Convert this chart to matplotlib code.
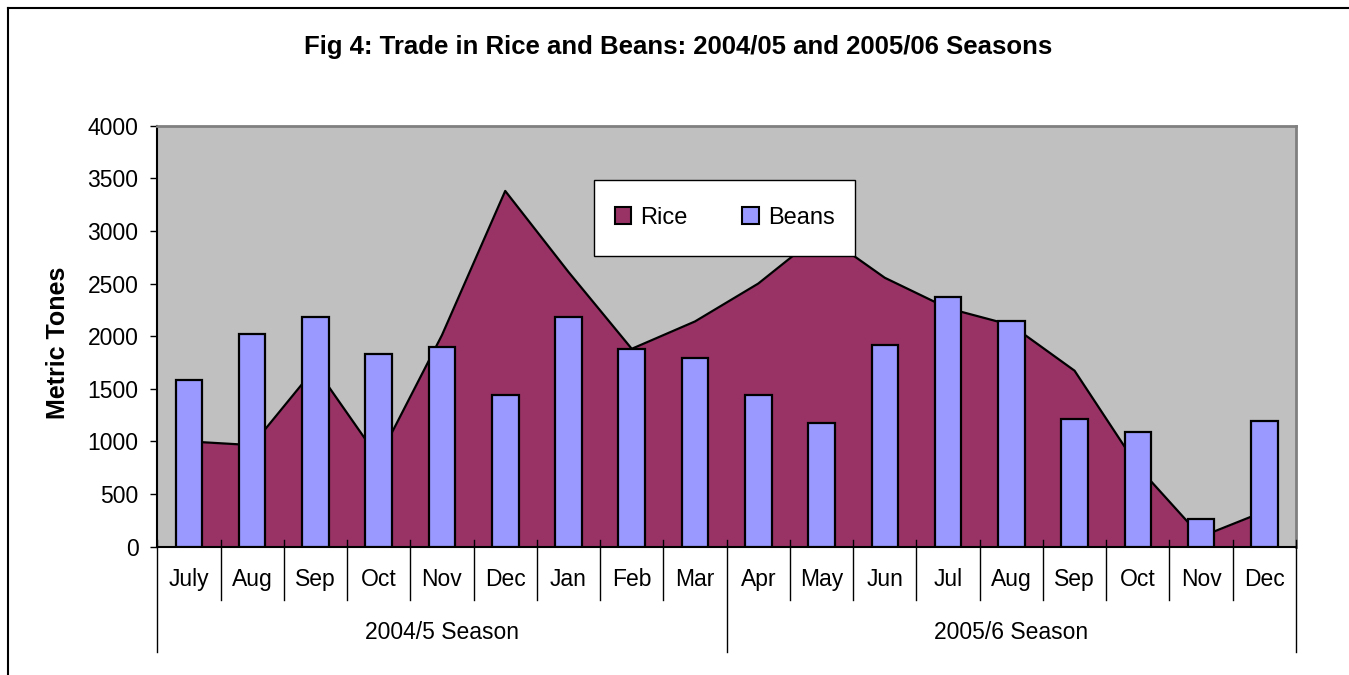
import numpy as np
import matplotlib
matplotlib.use("Agg")
import matplotlib.pyplot as plt
from matplotlib.patches import Patch, Rectangle
from matplotlib.lines import Line2D
import matplotlib.transforms as mtransforms

plt.rcParams['font.family'] = ['Liberation Sans', 'DejaVu Sans']

months = ["July", "Aug", "Sep", "Oct", "Nov", "Dec", "Jan", "Feb", "Mar",
          "Apr", "May", "Jun", "Jul", "Aug", "Sep", "Oct", "Nov", "Dec"]
seasons = ["2004/5 Season", "2005/6 Season"]
season_lengths = [9, 9]
rice = [1000, 965, 1700, 840, 2010, 3380, 2610, 1880, 2140,
        2500, 2980, 2555, 2265, 2105, 1672, 760, 95, 335]
beans = [1585, 2018, 2182, 1831, 1894, 1438, 2182, 1875, 1790,
         1441, 1172, 1913, 2370, 2144, 1213, 1087, 260, 1191]

RICE_C = '#993366'
BEANS_C = '#9999FF'

fig = plt.figure(figsize=(13.49, 6.75), dpi=100)
ax = fig.add_axes([0.1166, 0.1901, 0.8441, 0.6237])
ax.set_facecolor('#C0C0C0')

x = np.arange(len(months))
ax.fill_between(x, rice, 0, color=RICE_C, zorder=1, linewidth=0)
ax.plot(x, rice, color='black', lw=1.6, zorder=2)
ax.bar(x, beans, width=0.42, color=BEANS_C, edgecolor='black', linewidth=1.6, zorder=3)

ax.set_xlim(-0.5, len(months) - 0.5)
ax.set_ylim(0, 4000)
ax.set_yticks(np.arange(0, 4001, 500))
ax.tick_params(axis='y', direction='out', length=5, width=1, pad=8.5, labelsize=16.5)
ax.set_xticks([])

for s in ['left', 'bottom']:
    ax.spines[s].set_color('black')
    ax.spines[s].set_linewidth(1.5)
for s in ['top', 'right']:
    ax.spines[s].set_color('#808080')
    ax.spines[s].set_linewidth(2)

trans = mtransforms.blended_transform_factory(ax.transData, ax.transAxes)
# category labels and separators
for i, m in enumerate(months):
    ax.text(i, -0.078, m, transform=trans, ha='center', va='center', fontsize=16.5)
season_bounds = np.cumsum([0] + season_lengths) - 0.5
for b in np.arange(-0.5, len(months), 1.0):
    if np.any(np.isclose(b, season_bounds)):
        y0 = -0.249
    else:
        y0 = -0.126
    ax.add_line(Line2D([b, b], [0.0166, y0], transform=trans, color='black',
                       lw=1, clip_on=False, zorder=5))
for k, s in enumerate(seasons):
    c = (season_bounds[k] + season_bounds[k + 1]) / 2
    ax.text(c, -0.203, s, transform=trans, ha='center', va='center', fontsize=16.5)

# legend box
ax.add_patch(Rectangle((0.3838, 0.6905), 0.2292, 0.1805, transform=ax.transAxes,
                       facecolor='white', edgecolor='black', lw=1, zorder=6))
handles = [Patch(facecolor=RICE_C, edgecolor='black', lw=1.5, label='Rice'),
           Patch(facecolor=BEANS_C, edgecolor='black', lw=1.5, label='Beans')]
leg = ax.legend(handles=handles, ncol=2, frameon=False, fontsize=17,
                handlelength=0.7, handleheight=0.7, handletextpad=0.4,
                columnspacing=2.3, loc='center', bbox_to_anchor=(0.4984, 0.781))
leg.set_zorder(7)

fig.text(0.503, 0.930, "Fig 4: Trade in Rice and Beans: 2004/05 and 2005/06 Seasons",
         ha='center', va='center', fontsize=18.5, fontweight='bold')
fig.text(0.043, 0.4926, "Metric Tones", rotation=90, ha='center', va='center',
         fontsize=18, fontweight='bold')

# chart area border (left and top visible)
fig.add_artist(Line2D([8 / 1349, 8 / 1349], [0, 1 - 8 / 675], transform=fig.transFigure,
                      color='black', lw=1.5))
fig.add_artist(Line2D([8 / 1349, 1], [1 - 8 / 675, 1 - 8 / 675], transform=fig.transFigure,
                      color='black', lw=1.5))

fig.savefig('out.png', dpi=100)
